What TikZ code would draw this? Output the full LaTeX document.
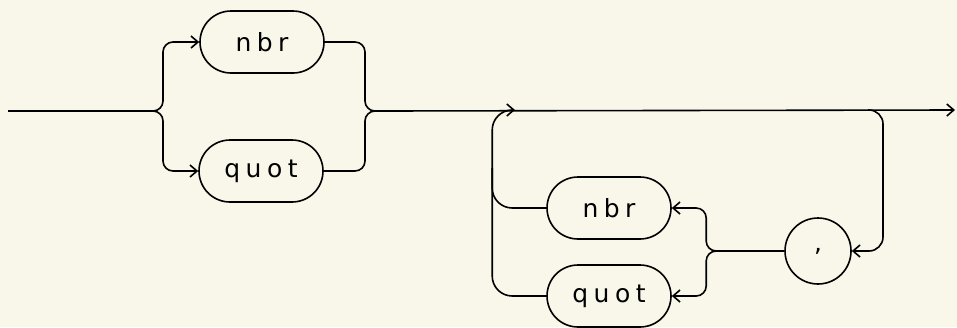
\documentclass[tikz,border=0pt]{standalone}
\usepackage{fontspec}
\usepackage{tikz}
\usetikzlibrary{shapes.misc,arrows.meta}
\newfontfamily\railfont[LetterSpace=22]{DejaVu Sans}
\definecolor{paper}{RGB}{249,247,234}

\begin{document}
\begin{tikzpicture}[x=0.5pt, y=-0.5pt, >={Straight Barb[length=3.5pt,width=6pt]},
  term/.style={draw, thick, rounded rectangle, minimum width=62pt, minimum height=31pt, inner sep=0pt, font=\fontsize{12.5}{15}\railfont},
  sep/.style={draw, thick, circle, minimum size=33pt, inner sep=0pt, font=\fontsize{12.5}{15}\railfont},
  line/.style={thick, rounded corners=5pt},
  arr/.style={->, thick, rounded corners=5pt}]
\fill[paper] (0,0) rectangle (957,327);
% the two alternatives
\node[term] (nbrA) at (262,42) {nbr};
\node[term] (quotA) at (261,171) {quot};
% the list loop
\node[term] (nbrB) at (609,208) {nbr};
\node[term] (quotB) at (609,296) {quot};
\node[sep] (comma) at (818,251) {,};
\coordinate (in) at (8,111);
\coordinate (split) at (155,111);
\coordinate (join) at (381,111);
\coordinate (back) at (515,110);
\coordinate (loop) at (868,110);
\coordinate (out) at (955,110);

\draw[line] (in) -- (split);
\draw[arr] (split) -- ++(8,0) |- (nbrA.west);
\draw[arr] (split) -- ++(8,0) |- (quotA.west);
\draw[line] (nbrA.east) -| ([xshift=-8pt]join) -- (join);
\draw[line] (quotA.east) -| ([xshift=-8pt]join) -- (join);
\draw[arr] (join) -- (out);

\draw[arr, rounded corners=7pt] (loop) -- ++(15,0) |- (comma.east);
\draw[arr] (comma.west) -- ++(-78,0) |- (nbrB.east);
\draw[arr] (comma.west) -- ++(-78,0) |- (quotB.east);
\draw[arr, rounded corners=10pt] (quotB.west) -- ++(-54,0) |- (back);
\draw[line, rounded corners=10pt] (nbrB.west) -| ++(-54,-40);
\end{tikzpicture}
\end{document}
